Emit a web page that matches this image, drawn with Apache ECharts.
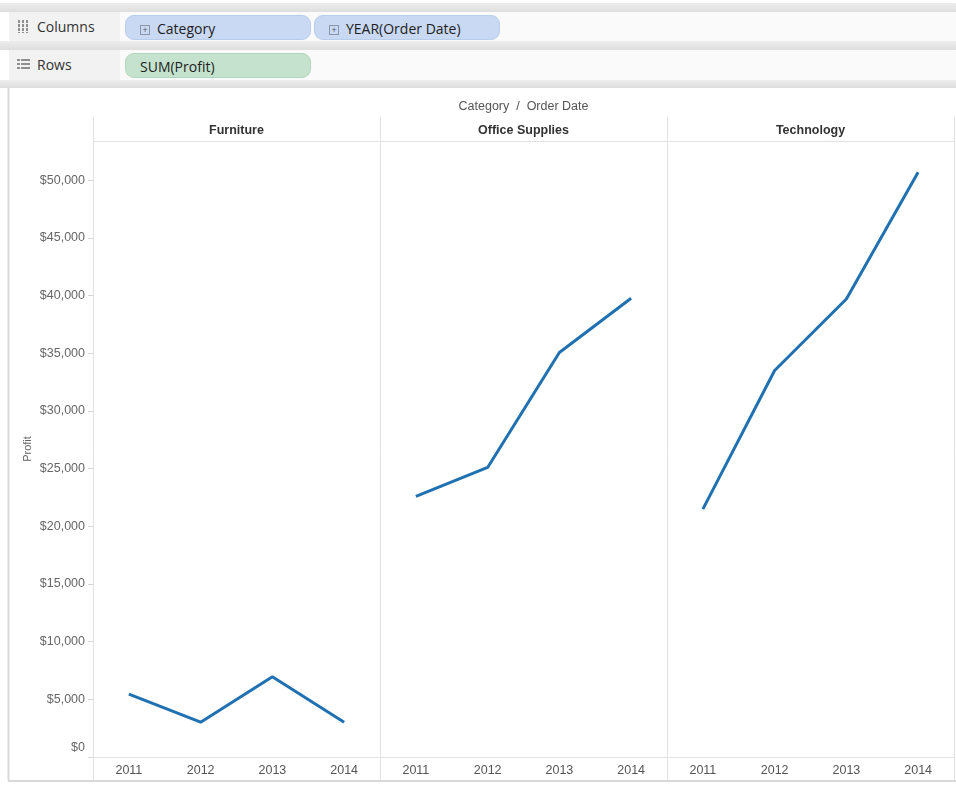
<!DOCTYPE html>
<html>
<head>
<meta charset="utf-8">
<script src="https://cdn.jsdelivr.net/npm/echarts@6/dist/echarts.min.js"></script>
<style>
  body { margin: 0; background: #fff; font-family: "Open Sans", sans-serif; }
  #chart { position: absolute; left: 0; top: 0; width: 956px; height: 787px; }
  .band { position: absolute; left: 0; width: 956px; height: 9px; background: linear-gradient(#ededed, #dedede); z-index: 2; }
  .shelf { position: absolute; left: 9px; width: 947px; height: 29px; background: #fafafa; z-index: 2; }
  .lbl { position: absolute; left: 0; top: 0; width: 111px; height: 29px; background: #f2f2f2;
         font-size: 14px; color: #333; line-height: 29px; }
  .lbl span { position: absolute; left: 28px; }
  .pill { position: absolute; height: 25px; border-radius: 9px; font-size: 14px; color: #222;
          line-height: 25px; box-sizing: border-box; }
  .blue { background: #c9d9f3; border: 1px solid #b8ccec; }
  .green { background: #c4e2cd; border: 1px solid #b2d6bd; }
  .pm { display: inline-block; width: 8px; height: 8px; border: 1px solid #8a96a8; font-size: 9px;
        line-height: 8px; text-align: center; color: #556; margin: 0 7px 0 14px; vertical-align: 1px; }
  .icoCol { position: absolute; left: 9px; top: 8px; width: 11px; height: 13px;
            background: repeating-linear-gradient(90deg, #8f8f8f 0 2px, transparent 2px 4px); }
  .icoCol:after { content: ""; position: absolute; left: 0; top: 0; width: 11px; height: 13px;
            background: repeating-linear-gradient(transparent 0 3px, #f2f2f2 3px 4px); }
  .icoRow { position: absolute; left: 8px; top: 9px; width: 13px; height: 12px;
            background: repeating-linear-gradient(#8f8f8f 0 2px, transparent 2px 4px); }
  .icoRow:after { content: ""; position: absolute; left: 3px; top: 0; width: 1px; height: 12px; background: #f2f2f2; }
</style>
</head>
<body>
<div class="band" style="top:3px"></div>
<div class="shelf" style="top:12px">
  <div class="lbl"><div class="icoCol"></div><span>Columns</span></div>
  <div class="pill blue" style="left:116px;top:3px;width:186px"><span class="pm">+</span>Category</div>
  <div class="pill blue" style="left:305px;top:3px;width:186px"><span class="pm">+</span>YEAR(Order Date)</div>
</div>
<div class="band" style="top:41px"></div>
<div class="shelf" style="top:50px;height:30px">
  <div class="lbl" style="height:30px;line-height:30px"><div class="icoRow"></div><span>Rows</span></div>
  <div class="pill green" style="left:116px;top:3px;width:186px;padding-left:14px">SUM(Profit)</div>
</div>
<div class="band" style="top:80px;height:8px"></div>
<div id="chart"></div>
<script>
const years = ["2011", "2012", "2013", "2014"];
const categories = ["Furniture", "Office Supplies", "Technology"];
const furniture = [5458, 3015, 6960, 3018];
const officeSupplies = [22593, 25100, 35061, 39774];
const technology = [21493, 33504, 39700, 50684];
const yTicks = [0, 5000, 10000, 15000, 20000, 25000, 30000, 35000, 40000, 45000, 50000];

const seriesData = [furniture, officeSupplies, technology];
const paneLeft = 93;
const paneWidth = 287;
const plotTop = 141;
const plotBottom = 757;
const gridColor = "#e2e2e2";
const font = "Liberation Sans";

function money(v) {
  return "$" + v.toLocaleString("en-US");
}

const grids = [];
const xAxes = [];
const yAxes = [];
const series = [];
const graphics = [];

categories.forEach((cat, i) => {
  grids.push({
    left: paneLeft + i * paneWidth,
    top: plotTop,
    width: paneWidth,
    height: plotBottom - plotTop,
  });
  xAxes.push({
    type: "category",
    gridIndex: i,
    data: years,
    boundaryGap: true,
    axisLine: { lineStyle: { color: gridColor } },
    axisTick: { length: 5, lineStyle: { color: "#d6d6d6" } },
    axisLabel: { color: "#555", fontFamily: font, fontSize: 12.5, margin: 7 },
  });
  yAxes.push({
    type: "value",
    gridIndex: i,
    min: 0,
    max: 53400,
    interval: 5000,
    name: i === 0 ? "Profit" : "",
    nameLocation: "middle",
    nameGap: 60,
    nameRotate: 90,
    nameTextStyle: { color: "#666", fontFamily: font, fontSize: 11 },
    axisLine: { show: false },
    splitLine: { show: false },
    axisTick: { show: i === 0, length: 5, customValues: yTicks, lineStyle: { color: "#d6d6d6" } },
    axisLabel: {
      show: i === 0,
      customValues: yTicks,
      margin: 8,
      color: "#666",
      fontFamily: font,
      fontSize: 12.5,
      formatter: (v) => (v === 0 ? "{z|$0}" : money(v)),
      rich: { z: { color: "#666", fontFamily: font, fontSize: 12.5, padding: [0, 0, 18, 0] } },
    },
  });
  series.push({
    name: cat,
    type: "line",
    xAxisIndex: i,
    yAxisIndex: i,
    data: seriesData[i],
    symbol: "none",
    lineStyle: { color: "#1f71b1", width: 3 },
  });
  graphics.push({
    type: "text",
    x: paneLeft + i * paneWidth + paneWidth / 2,
    y: 131,
    style: {
      text: cat, fill: "#333", font: "bold 12.5px " + font,
      textAlign: "center", textVerticalAlign: "middle",
    },
  });
});

// pane borders and header rule
for (let i = 0; i <= categories.length; i++) {
  const x = paneLeft + i * paneWidth + 0.5;
  graphics.push({
    type: "line", silent: true,
    shape: { x1: x, y1: 117, x2: x, y2: 780 },
    style: { stroke: gridColor, lineWidth: 1 },
  });
}
graphics.push(
  { type: "line", silent: true, shape: { x1: paneLeft, y1: 141.5, x2: paneLeft + 3 * paneWidth, y2: 141.5 },
    style: { stroke: gridColor, lineWidth: 1 } },
  { type: "line", silent: true, shape: { x1: 8.5, y1: 88, x2: 8.5, y2: 781 },
    style: { stroke: "#d9d9d9", lineWidth: 2 } },
  { type: "line", silent: true, shape: { x1: 8, y1: 781, x2: 956, y2: 781 },
    style: { stroke: "#d9d9d9", lineWidth: 2 } },
  { type: "text", x: paneLeft + 1.5 * paneWidth, y: 107,
    style: { text: "Category  /  Order Date", fill: "#555", font: "12.5px " + font,
             textAlign: "center", textVerticalAlign: "middle" } }
);

const chart = echarts.init(document.getElementById("chart"));
chart.setOption({
  animation: false,
  backgroundColor: "#fff",
  grid: grids,
  xAxis: xAxes,
  yAxis: yAxes,
  series: series,
  graphic: graphics,
});
</script>
</body>
</html>
